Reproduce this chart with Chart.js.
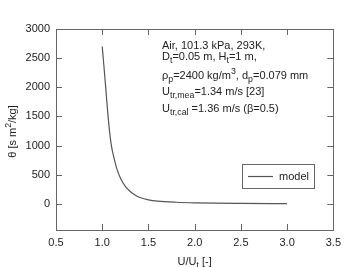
<!DOCTYPE html>
<html>
<head>
<meta charset="utf-8">
<script src="https://cdn.jsdelivr.net/npm/chart.js@4.4.1/dist/chart.umd.min.js"></script>
<style>
  html, body { margin: 0; padding: 0; background: #fff; }
  #wrap { width: 347px; height: 267px; position: relative; }
</style>
</head>
<body>
<div id="wrap"><canvas id="c"></canvas></div>
<script>
// values
const uRatio = [1.0, 1.02, 1.04, 1.06, 1.08, 1.10, 1.13, 1.16, 1.20, 1.25, 1.30, 1.35, 1.40, 1.50, 1.60, 1.80, 2.00, 2.50, 3.00];
const theta  = [2700, 2330, 1950, 1560, 1230, 990, 770, 590, 430, 300, 215, 155, 112, 68, 46, 26, 16, 6, 2];
const xTicks = [0.5, 1.0, 1.5, 2.0, 2.5, 3.0, 3.5];
const yTicks = [0, 500, 1000, 1500, 2000, 2500, 3000];
const seriesName = 'model';

const FONT = '"Liberation Sans", Arial, sans-serif';
const INK = '#222';
const AXIS = '#666';

// text with sub/superscripts: [text, 'sub'|'sup'|undefined]
function rich(ctx, x, y, parts, size) {
    ctx.textBaseline = 'alphabetic';
    ctx.textAlign = 'left';
    parts.forEach(p => {
        let s = size, dy = 0;
        if (p[1] === 'sub') { s = size * 0.8; dy = 3; }
        if (p[1] === 'sup') { s = size * 0.8; dy = -5; }
        ctx.font = s + 'px ' + FONT;
        ctx.fillText(p[0], x, y + dy);
        x += ctx.measureText(p[0]).width;
    });
    return x;
}
function richWidth(ctx, parts, size) {
    let w = 0;
    parts.forEach(p => {
        const s = p[1] ? size * 0.8 : size;
        ctx.font = s + 'px ' + FONT;
        w += ctx.measureText(p[0]).width;
    });
    return w;
}

const frame = {
    id: 'frame',
    afterDraw(chart) {
        const ctx = chart.ctx, a = chart.chartArea;
        const xs = chart.scales.x, ys = chart.scales.y;
        ctx.save();
        ctx.strokeStyle = AXIS;
        ctx.lineWidth = 1;
        ctx.strokeRect(Math.round(a.left) + 0.5, Math.round(a.top) + 0.5,
                       Math.round(a.right - a.left), Math.round(a.bottom - a.top));
        const tl = 6;
        ctx.beginPath();
        xTicks.slice(1, -1).forEach(v => {
            const px = Math.round(xs.getPixelForValue(v)) + 0.5;
            ctx.moveTo(px, a.bottom); ctx.lineTo(px, a.bottom - tl);
            ctx.moveTo(px, a.top); ctx.lineTo(px, a.top + tl);
        });
        yTicks.slice(0, -1).forEach(v => {
            const py = Math.round(ys.getPixelForValue(v)) + 0.5;
            ctx.moveTo(a.left, py); ctx.lineTo(a.left + tl, py);
            ctx.moveTo(a.right, py); ctx.lineTo(a.right - tl, py);
        });
        ctx.stroke();

        // axis titles
        ctx.fillStyle = INK;
        const tParts = [['U/U'], ['t', 'sub'], [' [-]']];
        const tw = richWidth(ctx, tParts, 11);
        rich(ctx, (a.left + a.right) / 2 - tw / 2, 265, tParts, 11);

        ctx.save();
        ctx.translate(16, (a.top + a.bottom) / 2 + 2);
        ctx.rotate(-Math.PI / 2);
        const yParts = [['\u03b8 [s m'], ['2', 'sup'], ['/kg]']];
        const yw = richWidth(ctx, yParts, 11);
        rich(ctx, -yw / 2, 0, yParts, 11);
        ctx.restore();

        // annotation
        const tx = a.left + 106, s = 11;
        rich(ctx, tx, a.top + 20, [['Air, 101.3 kPa, 293K,']], s);
        rich(ctx, tx, a.top + 31, [['D'], ['t', 'sub'], ['=0.05 m, H'], ['t', 'sub'], ['=1 m,']], s);
        rich(ctx, tx, a.top + 50, [['\u03c1'], ['p', 'sub'], ['=2400 kg/m'], ['3', 'sup'], [', d'], ['p', 'sub'], ['=0.079 mm']], s);
        rich(ctx, tx, a.top + 66, [['U'], ['tr,mea', 'sub'], ['=1.34 m/s [23]']], s);
        rich(ctx, tx, a.top + 83, [['U'], ['tr,cal', 'sub'], [' =1.36 m/s (\u03b2=0.5)']], s);

        // legend box
        const lx = a.left + 186, ly = a.top + 135, lw = 72, lh = 24;
        ctx.strokeStyle = AXIS;
        ctx.strokeRect(lx + 0.5, ly + 0.5, lw, lh);
        ctx.strokeStyle = chart.data.datasets[0].borderColor;
        ctx.lineWidth = 1.2;
        ctx.beginPath();
        ctx.moveTo(lx + 6, ly + 12.5); ctx.lineTo(lx + 31, ly + 12.5);
        ctx.stroke();
        ctx.fillStyle = INK;
        ctx.font = '11px ' + FONT;
        ctx.textBaseline = 'middle';
        ctx.fillText(chart.data.datasets[0].label, lx + 37, ly + 12.5);
        ctx.restore();
    }
};

new Chart(document.getElementById('c'), {
    type: 'line',
    data: {
        datasets: [{
            label: seriesName,
            data: uRatio.map((u, i) => ({ x: u, y: theta[i] })),
            borderColor: '#555',
            borderWidth: 1.2,
            pointRadius: 0,
            cubicInterpolationMode: 'monotone',
            fill: false
        }]
    },
    options: {
        responsive: true,
        maintainAspectRatio: false,
        animation: false,
        layout: { padding: { left: 0, right: 11, top: 29, bottom: 0 } },
        plugins: { legend: { display: false }, tooltip: { enabled: false } },
        scales: {
            x: {
                type: 'linear',
                min: 0.5, max: 3.5,
                grid: { display: false, drawTicks: false },
                border: { display: false },
                afterBuildTicks: s => { s.ticks = xTicks.map(v => ({ value: v })); },
                afterFit: s => { s.height = 37; },
                ticks: {
                    padding: 6,
                    color: INK,
                    font: { family: FONT, size: 11 },
                    callback: v => Number(v).toFixed(1)
                }
            },
            y: {
                min: -450, max: 3000,
                grid: { display: false, drawTicks: false },
                border: { display: false },
                afterBuildTicks: s => { s.ticks = yTicks.map(v => ({ value: v })); },
                afterFit: s => { s.width = 56; },
                ticks: {
                    padding: 6,
                    color: INK,
                    font: { family: FONT, size: 11 },
                    callback: v => String(v)
                }
            }
        }
    },
    plugins: [frame]
});
</script>
</body>
</html>
